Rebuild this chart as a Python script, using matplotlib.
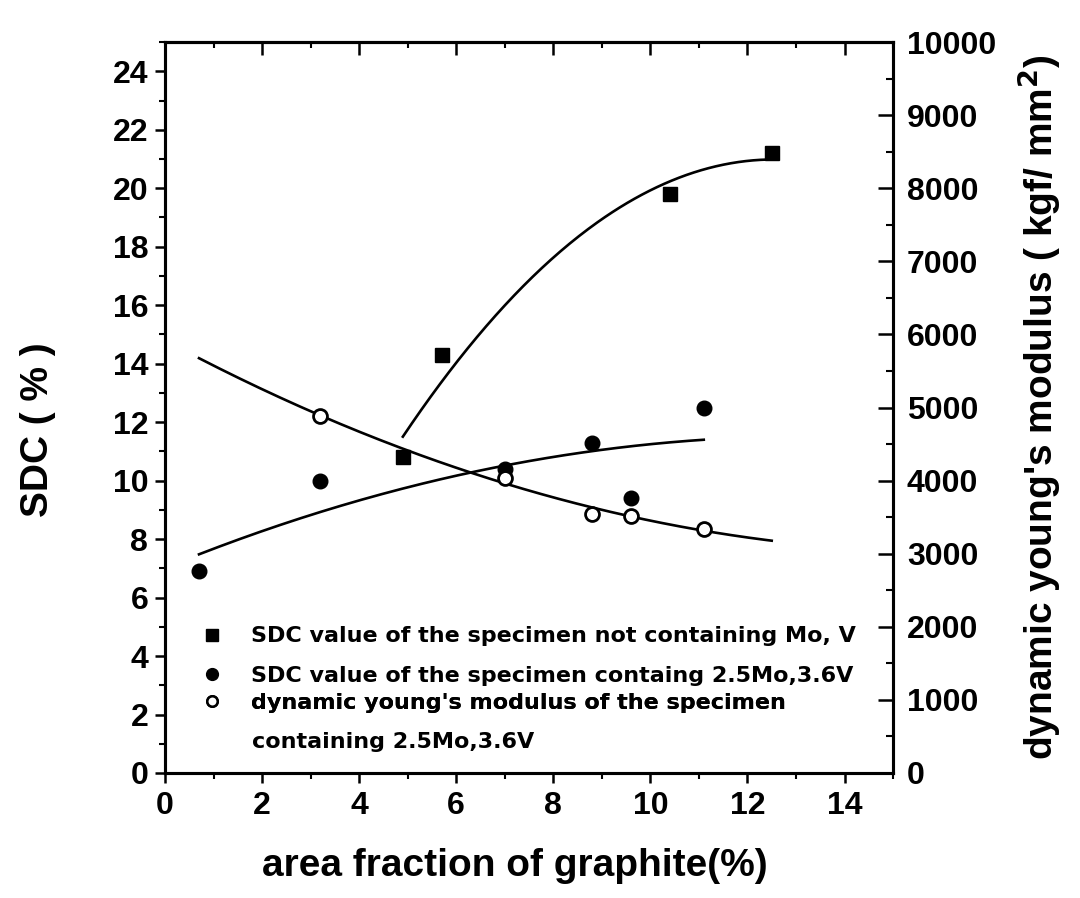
import numpy as np
import matplotlib
matplotlib.use("Agg")
import matplotlib.pyplot as plt
from matplotlib.lines import Line2D
from matplotlib.ticker import MultipleLocator

# ---- data ----
sq_x = [4.9, 5.7, 10.4, 12.5]          # SDC, specimen not containing Mo, V
sq_sdc = [10.8, 14.3, 19.8, 21.2]
fc_x = [0.7, 3.2, 7.0, 8.8, 9.6, 11.1]  # SDC, specimen containing 2.5Mo,3.6V
fc_sdc = [6.9, 10.0, 10.4, 11.3, 9.4, 12.5]
oc_x = [3.2, 7.0, 8.8, 9.6, 11.1]       # dynamic Young's modulus
oc_mod = [4880, 4030, 3550, 3510, 3340]

x_ticks = [0, 2, 4, 6, 8, 10, 12, 14]
y_ticks = [0, 2, 4, 6, 8, 10, 12, 14, 16, 18, 20, 22, 24]
y2_ticks = [0, 1000, 2000, 3000, 4000, 5000, 6000, 7000, 8000, 9000, 10000]

labels = ["SDC value of the specimen not containing Mo, V",
          "SDC value of the specimen containg 2.5Mo,3.6V",
          "dynamic young's modulus of the specimen",
          "containing 2.5Mo,3.6V"]

FONT = "Liberation Sans"
LEG_FONT = "DejaVu Sans"
plt.rcParams["font.family"] = [FONT, "DejaVu Sans"]
plt.rcParams["font.weight"] = "bold"

fig = plt.figure(figsize=(10.8, 8.98), dpi=100)
ax = fig.add_axes([0.1528, 0.1392, 0.6741, 0.814])
ax2 = ax.twinx()

ax.set_xlim(0, 15)
ax.set_ylim(0, 25)
ax2.set_ylim(0, 10000)

# fitted trend curves (quadratic fits of each series)
def fit_curve(x, y, x0, x1):
    c = np.polyfit(x, y, 2)
    xs = np.linspace(x0, x1, 200)
    return xs, np.polyval(c, xs)

xs, ys = fit_curve(sq_x, sq_sdc, min(sq_x), max(sq_x))
ax.plot(xs, ys, color="black", lw=1.9)
xs, ys = fit_curve(fc_x, fc_sdc, min(fc_x), max(fc_x))
ax.plot(xs, ys, color="black", lw=1.9)
xs, ys = fit_curve(oc_x, oc_mod, min(fc_x), max(sq_x))
ax2.plot(xs, ys, color="black", lw=1.9)

ax.plot(sq_x, sq_sdc, ls="none", marker="s", ms=10, color="black")
ax.plot(fc_x, fc_sdc, ls="none", marker="o", ms=10.5, color="black")
ax2.plot(oc_x, oc_mod, ls="none", marker="o", ms=10, mfc="white", mec="black", mew=2)

# ticks
ax.set_xticks(x_ticks)
ax.xaxis.set_minor_locator(MultipleLocator(1))
ax.set_yticks(y_ticks)
ax.yaxis.set_minor_locator(MultipleLocator(1))
ax2.set_yticks(y2_ticks)
ax2.yaxis.set_minor_locator(MultipleLocator(500))

ax.tick_params(axis="both", which="major", direction="out", length=7, width=1.8,
               labelsize=23, right=False, top=False)
ax.tick_params(axis="both", which="minor", direction="out", length=4, width=1.5,
               right=False, top=False)
ax.tick_params(axis="x", pad=6)
ax.tick_params(axis="y", pad=5)
ax2.tick_params(axis="y", which="major", direction="in", length=11, width=1.8,
                labelsize=23, pad=10)
ax2.tick_params(axis="y", which="minor", direction="in", length=5, width=1.5)

top = ax.secondary_xaxis("top")
top.set_xticks(x_ticks)
top.xaxis.set_minor_locator(MultipleLocator(1))
top.tick_params(which="major", direction="in", length=9, width=1.8, labeltop=False)
top.tick_params(which="minor", direction="in", length=4, width=1.5)

for a in (ax, ax2):
    for s in a.spines.values():
        s.set_linewidth(2.2)
top.spines["top"].set_linewidth(2.2)

for lab in ax.get_xticklabels() + ax.get_yticklabels() + ax2.get_yticklabels():
    lab.set_fontweight("bold")

ax.set_xlabel("area fraction of graphite(%)", fontsize=28, fontweight="bold")
ax.xaxis.set_label_coords(0.481, -0.103)
ax.set_ylabel("SDC ( % )", fontsize=28, fontweight="bold")
ax.yaxis.set_label_coords(-0.15, 0.47)
ax2.set_ylabel("dynamic young's modulus ( kgf/ mm$^\\mathbf{2}$)", fontsize=28,
               fontweight="bold")
ax2.yaxis.set_label_coords(1.168, 0.5)

# legend (three one-entry legends to reproduce the uneven spacing)
LSIZE = 16
lkw = dict(frameon=False, prop={"family": LEG_FONT, "weight": "bold", "size": LSIZE},
           handletextpad=1.35, borderaxespad=0, borderpad=0, handlelength=0.8,
           loc="center left")
h1 = Line2D([], [], ls="none", marker="s", ms=8, color="black")
h2 = Line2D([], [], ls="none", marker="o", ms=8.5, color="black")
h3 = Line2D([], [], ls="none", marker="o", ms=7.5, mfc="white", mec="black", mew=1.8)
leg1 = ax.legend([h1], [labels[0]], bbox_to_anchor=(0.053, 0.187), **lkw)
ax.add_artist(leg1)
leg2 = ax.legend([h2], [labels[1]], bbox_to_anchor=(0.053, 0.133), **lkw)
ax.add_artist(leg2)
leg3 = ax.legend([h3], [labels[2]], bbox_to_anchor=(0.053, 0.096), **lkw)
ax.add_artist(leg3)
ax.text(0.1195, 0.042, labels[3], transform=ax.transAxes, fontsize=LSIZE,
        family=LEG_FONT, fontweight="bold", va="center", ha="left")

fig.savefig("out.png", dpi=100)
